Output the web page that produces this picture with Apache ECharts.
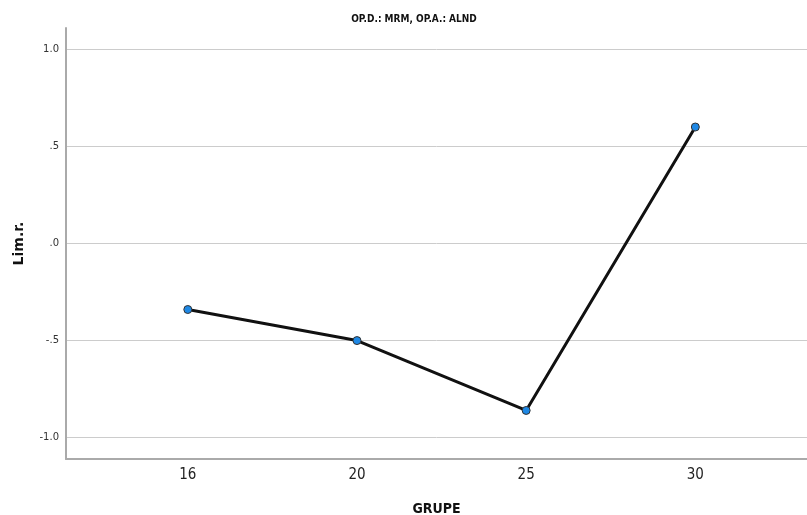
<!DOCTYPE html>
<html>
<head>
<meta charset="utf-8">
<script src="https://cdn.jsdelivr.net/npm/echarts@6/dist/echarts.min.js"></script>
<style>
html,body{margin:0;padding:0;background:#fff;}
#chart{width:807px;height:515px;}
</style>
</head>
<body>
<div id="chart"></div>
<script>
var categories = ['16', '20', '25', '30'];
var values = [-0.34, -0.50, -0.86, 0.60];
var yTicks = [-1.0, -0.5, 0.0, 0.5, 1.0];
var xTicks = [0, 1, 2, 3];

var chart = echarts.init(document.getElementById('chart'));
var seriesData = values.map(function (v, i) { return [i, v]; });

function fmtY(v) {
  var s = v.toFixed(1);
  if (s === '0.0') return '.0';
  if (s === '0.5') return '.5';
  if (s === '-0.5') return '-.5';
  return s;
}

chart.setOption({
  animation: false,
  backgroundColor: '#ffffff',
  title: {
    text: 'OP.D.: MRM, OP.A.: ALND',
    left: 409,
    textAlign: 'center',
    top: 9,
    textStyle: { fontFamily: 'DejaVu Sans Condensed', fontSize: 10, fontWeight: 'bold', color: '#111' }
  },
  grid: { left: 66, right: 0, top: 28, bottom: 56, containLabel: false, outerBoundsMode: 'none' },
  xAxis: {
    type: 'value',
    min: -0.72,
    max: 3.66,
    name: 'GRUPE',
    nameLocation: 'middle',
    nameGap: 43,
    nameTextStyle: { fontFamily: 'DejaVu Sans Condensed', fontSize: 14, fontWeight: 'bold', color: '#111' },
    axisLine: { show: true, onZero: false, lineStyle: { color: '#aaaaaa', width: 2 } },
    axisTick: { show: false, customValues: xTicks },
    splitLine: { show: false },
    axisLabel: {
      customValues: xTicks,
      formatter: function (v) { return categories[Math.round(v)]; },
      fontFamily: 'DejaVu Sans Condensed',
      fontSize: 15,
      color: '#222',
      margin: 9
    }
  },
  yAxis: {
    type: 'value',
    min: -1.11,
    max: 1.11,
    name: 'Lim.r.',
    nameLocation: 'middle',
    nameGap: 40,
    nameRotate: 90,
    nameTextStyle: { fontFamily: 'DejaVu Sans', fontSize: 14, fontWeight: 'bold', color: '#111' },
    axisLine: { show: true, onZero: false, lineStyle: { color: '#aaaaaa', width: 2 } },
    axisTick: { show: false, customValues: yTicks },
    splitLine: { show: true, lineStyle: { color: '#cccccc', width: 1 } },
    axisLabel: {
      customValues: yTicks,
      formatter: fmtY,
      fontFamily: 'DejaVu Sans',
      fontSize: 10,
      color: '#333',
      margin: 7
    }
  },
  series: [{
    type: 'line',
    data: seriesData,
    symbol: 'circle',
    symbolSize: 8,
    lineStyle: { color: '#111111', width: 3 },
    itemStyle: { color: '#1e88e5', borderColor: '#333333', borderWidth: 1 },
    z: 3
  }]
});
</script>
</body>
</html>
